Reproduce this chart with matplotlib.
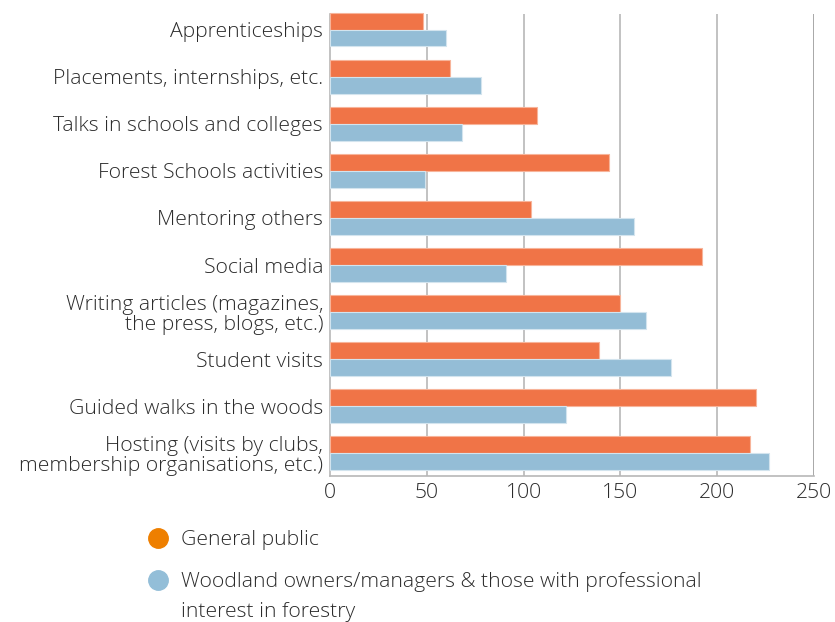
import matplotlib.pyplot as plt
from matplotlib.lines import Line2D
import numpy as np

categories = [
    "Apprenticeships",
    "Placements, internships, etc.",
    "Talks in schools and colleges",
    "Forest Schools activities",
    "Mentoring others",
    "Social media",
    "Writing articles (magazines,\nthe press, blogs, etc.)",
    "Student visits",
    "Guided walks in the woods",
    "Hosting (visits by clubs,\nmembership organisations, etc.)",
]
general_public = [48, 62, 107, 144, 104, 192, 150, 139, 220, 217]
woodland_owners = [60, 78, 68, 49, 157, 91, 163, 176, 122, 227]
x_ticks = [0, 50, 100, 150, 200, 250]

ORANGE = "#F07447"
BLUE = "#94BDD6"
TEXT = "#2b2b2b"
GRID = "#b8b8b8"
FS = 15.2

plt.rcParams["font.family"] = ["Open Sans", "DejaVu Sans"]
plt.rcParams["font.weight"] = "light"

fig = plt.figure(figsize=(8.35, 6.22), dpi=100)
ax = fig.add_axes([330 / 835, 1 - 476 / 622, 484 / 835, 462 / 622])

y = np.arange(len(categories))
h = 0.36
ax.barh(y - h / 2, general_public, height=h, color=ORANGE,
        edgecolor="#f7b49a", linewidth=0.8, zorder=3, clip_on=False)
ax.barh(y + h / 2, woodland_owners, height=h, color=BLUE,
        edgecolor="#d3e4ee", linewidth=0.8, zorder=3, clip_on=False)

ax.set_xlim(0, 250)
ax.set_ylim(len(categories) - 1 + 0.48, -0.33)
ax.set_xticks(x_ticks)
ax.set_yticks(y)
ax.set_yticklabels(categories, fontsize=FS, color=TEXT, linespacing=1.0)
ax.tick_params(axis="both", length=0, colors=TEXT, labelsize=FS)
ax.tick_params(axis="y", pad=5)
ax.tick_params(axis="x", pad=5)

for v in x_ticks[1:]:
    ax.axvline(v, color=GRID if v < 250 else "#9a9a9a", lw=1.2, zorder=1)

for side in ["top", "right"]:
    ax.spines[side].set_visible(False)
for side in ["left", "bottom"]:
    ax.spines[side].set_color(GRID)
    ax.spines[side].set_linewidth(1.2)

# legend with the marker beside the first line of each entry
legend_items = [
    ("General public", "#EE7F00", 538),
    ("Woodland owners/managers & those with professional\ninterest in forestry", "#93BED8", 580),
]
for label, color, ypix in legend_items:
    fy = 1 - ypix / 622
    fig.add_artist(Line2D([158 / 835], [fy], marker="o", markersize=14,
                          color=color, linestyle="none"))
    fig.text(181 / 835, fy + 0.0125, label, fontsize=FS, color=TEXT,
             va="top", ha="left", linespacing=1.62)

fig.savefig("out.png", dpi=100)
